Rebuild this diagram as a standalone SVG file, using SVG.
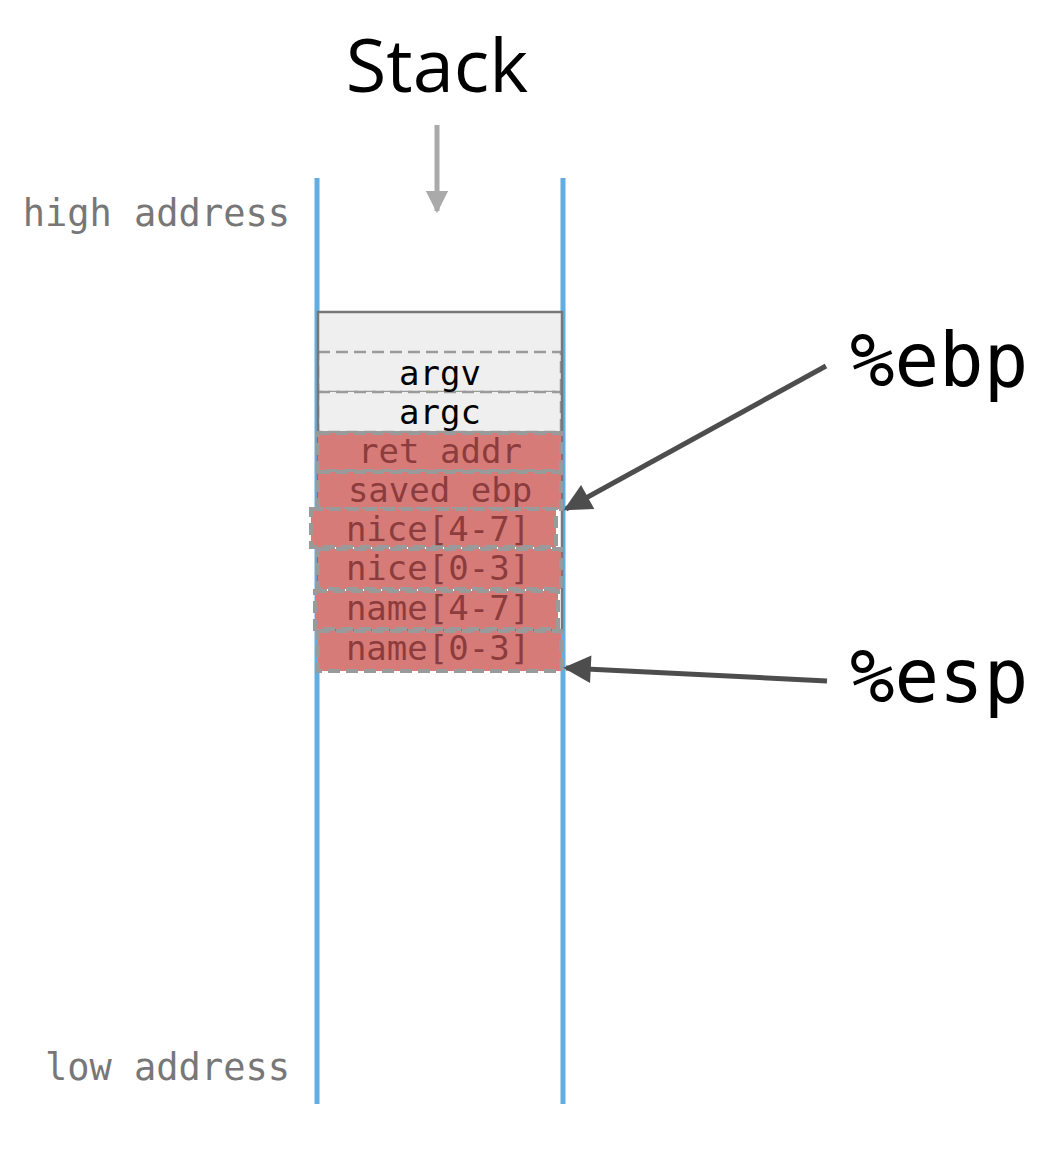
<svg xmlns="http://www.w3.org/2000/svg" width="1050" height="1152" viewBox="0 0 1050 1152">
<style>
.mono{font-family:"DejaVu Sans Mono","Liberation Mono",monospace}
.addr{font-size:37px;fill:#777}
.cell{font-size:34px;text-anchor:middle}
.red rect{fill:#d67b78;stroke:#9a9a9a;stroke-width:4;stroke-dasharray:12 6}
.red text{fill:#8c3c3c}
.gray rect{fill:#efefef;stroke:#9a9a9a;stroke-width:2.5;stroke-dasharray:12 6}
.reg{font-size:74px;fill:#000}
.conn line{stroke:#4d4d4d;stroke-width:5}
</style>
<defs>
<marker id="ah" viewBox="0 0 10 10" refX="9" refY="5" markerWidth="6" markerHeight="5.5" orient="auto" markerUnits="strokeWidth">
<path d="M0,0 L10,5 L0,10 z" fill="#4d4d4d"/>
</marker>
<marker id="ahg" viewBox="0 0 10 10" refX="9" refY="5" markerWidth="4.5" markerHeight="4.5" orient="auto" markerUnits="strokeWidth">
<path d="M0,0 L10,5 L0,10 z" fill="#aaa"/>
</marker>
</defs>
<rect width="1050" height="1152" fill="#fff"/>
<g id="title">
<text x="437" y="92" font-family="'Open Sans','Noto Sans',sans-serif" font-size="74" text-anchor="middle" fill="#000">Stack</text>
<line x1="437" y1="125" x2="437" y2="211" stroke="#aaa" stroke-width="5" marker-end="url(#ahg)"/>
</g>
<g id="labels">
<text class="mono addr" x="290" y="226" text-anchor="end">high address</text>
<text class="mono addr" x="290" y="1080" text-anchor="end">low address</text>
</g>
<g id="rails">
<line x1="317" y1="178" x2="317" y2="1104" stroke="#62aee0" stroke-width="5"/>
<line x1="563" y1="178" x2="563" y2="1104" stroke="#62aee0" stroke-width="5"/>
</g>
<g id="frame">
<rect x="318" y="312" width="244" height="318" fill="#fff"/>
</g>
<g id="argcells" class="gray">
<rect x="318" y="313" width="243" height="39" style="stroke:none"/>
<rect x="318" y="352" width="243" height="40"/>
<rect x="318" y="392" width="243" height="40"/>
<text class="mono cell" x="440" y="385" fill="#000">argv</text>
<text class="mono cell" x="440" y="424" fill="#000">argc</text>
</g>
<g id="frameborder">
<rect x="318" y="312" width="244" height="318" fill="none" stroke="#777" stroke-width="2.5"/>
</g>
<g id="ret" class="red"><rect x="318" y="433" width="243" height="38"/><text class="mono cell" x="440" y="463">ret addr</text></g>
<g id="saved" class="red"><rect x="318" y="472" width="243" height="37"/><text class="mono cell" x="440" y="502">saved ebp</text></g>
<g id="nice47" class="red"><rect x="311" y="509" width="245" height="38"/><text class="mono cell" x="438" y="541">nice[4-7]</text></g>
<g id="nice03" class="red"><rect x="318" y="549" width="243" height="40"/><text class="mono cell" x="438" y="580">nice[0-3]</text></g>
<g id="name47" class="red"><rect x="315" y="591" width="243" height="38"/><text class="mono cell" x="438" y="620">name[4-7]</text></g>
<g id="name03" class="red"><rect x="318" y="631" width="243" height="40"/><text class="mono cell" x="438" y="660">name[0-3]</text></g>
<g id="ebp"><text class="mono reg" x="850" y="386">%ebp</text></g>
<g id="esp"><text class="mono reg" x="850" y="702">%esp</text></g>
<g id="connectors" class="conn">
<line x1="826" y1="366" x2="566" y2="509" marker-end="url(#ah)"/>
<line x1="827" y1="681" x2="566" y2="668" marker-end="url(#ah)"/>
</g>
</svg>
